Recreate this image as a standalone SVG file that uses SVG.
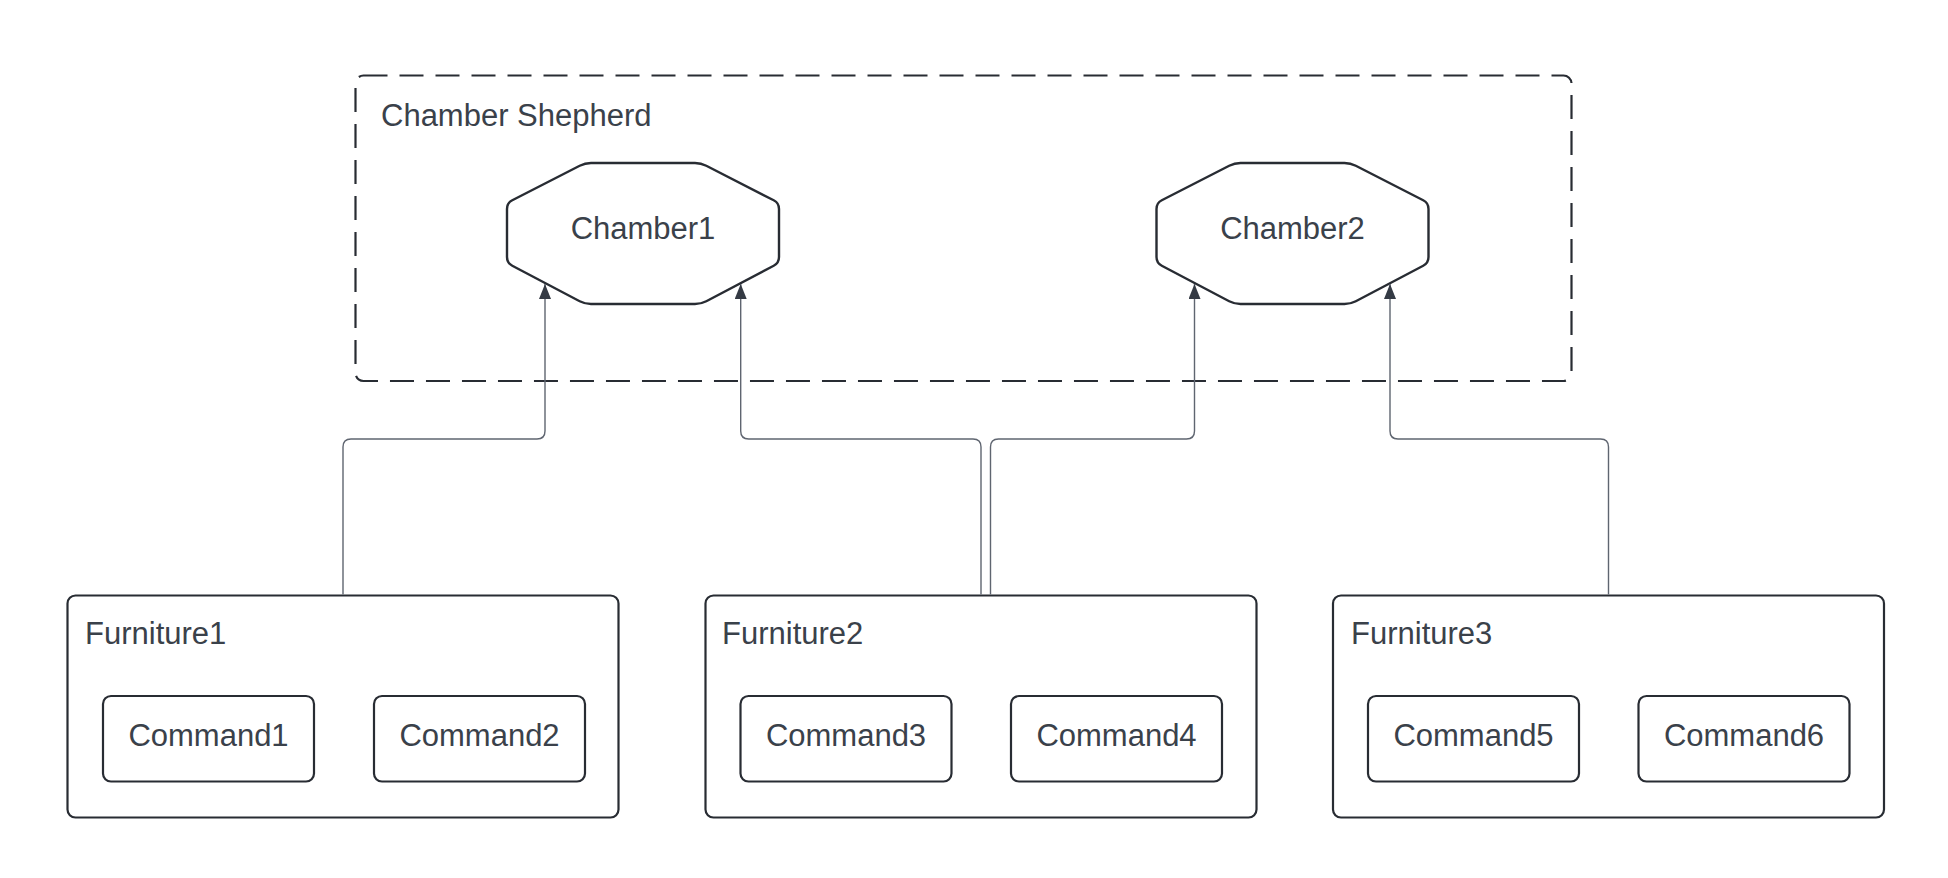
<svg xmlns="http://www.w3.org/2000/svg" width="1948" height="878" viewBox="0 0 1948 878">
  <style>
    .box { fill: #ffffff; stroke: #282c33; stroke-width: 2.2; }
    .container { fill: none; stroke: #282c33; stroke-width: 2.2; stroke-dasharray: 24 12; }
    .oct { fill: #ffffff; stroke: #282c33; stroke-width: 2.4; stroke-linejoin: round; }
    .lbl { font-family: "Liberation Sans", Arial, sans-serif; font-size: 31px; fill: #3a414a; }
    .mid { text-anchor: middle; }
    .conn { fill: none; stroke: #5f6570; stroke-width: 1.4; marker-end: url(#arrow); }
  </style>
  <defs>
    <marker id="arrow" viewBox="0 0 15 12" refX="15" refY="6" markerWidth="15" markerHeight="12" markerUnits="userSpaceOnUse" orient="auto">
      <path d="M0,0 L15,6 L0,12 Z" fill="#343a44"/>
    </marker>
    <path id="octShape" d="M591,163 H695 Q701,163 706.3,165.7 L773.7,200.3 Q779,203 779,209 V257 Q779,263 773.7,265.7 L706.3,301.3 Q701,304 695,304 H591 Q585,304 579.7,301.3 L512.3,265.7 Q507,263 507,257 V209 Q507,203 512.3,200.3 L579.7,165.7 Q585,163 591,163 Z"/>
  </defs>
  <rect width="1948" height="878" fill="#ffffff"/>

  <g id="chamber-shepherd">
    <rect class="container" x="355.5" y="75.5" width="1216" height="305.5" rx="8"/>
    <text class="lbl" x="381" y="126">Chamber Shepherd</text>
  </g>

  <g id="chamber1">
    <use href="#octShape" class="oct"/>
    <text class="lbl mid" x="643" y="239">Chamber1</text>
  </g>

  <g id="chamber2">
    <use href="#octShape" class="oct" transform="translate(649.5,0)"/>
    <text class="lbl mid" x="1292.5" y="239">Chamber2</text>
  </g>

  <g id="furniture1">
    <rect class="box" x="67.5" y="595.5" width="551" height="222" rx="8"/>
    <text class="lbl" x="85" y="644">Furniture1</text>
  </g>
  <g id="command1">
    <rect class="box" x="103" y="696" width="211" height="85.5" rx="8"/>
    <text class="lbl mid" x="208.5" y="745.5">Command1</text>
  </g>
  <g id="command2">
    <rect class="box" x="374" y="696" width="211" height="85.5" rx="8"/>
    <text class="lbl mid" x="479.5" y="745.5">Command2</text>
  </g>

  <g id="furniture2">
    <rect class="box" x="705.5" y="595.5" width="551" height="222" rx="8"/>
    <text class="lbl" x="722" y="644">Furniture2</text>
  </g>
  <g id="command3">
    <rect class="box" x="740.5" y="696" width="211" height="85.5" rx="8"/>
    <text class="lbl mid" x="846" y="745.5">Command3</text>
  </g>
  <g id="command4">
    <rect class="box" x="1011" y="696" width="211" height="85.5" rx="8"/>
    <text class="lbl mid" x="1116.5" y="745.5">Command4</text>
  </g>

  <g id="furniture3">
    <rect class="box" x="1333" y="595.5" width="551" height="222" rx="8"/>
    <text class="lbl" x="1351" y="644">Furniture3</text>
  </g>
  <g id="command5">
    <rect class="box" x="1368" y="696" width="211" height="85.5" rx="8"/>
    <text class="lbl mid" x="1473.5" y="745.5">Command5</text>
  </g>
  <g id="command6">
    <rect class="box" x="1638.5" y="696" width="211" height="85.5" rx="8"/>
    <text class="lbl mid" x="1744" y="745.5">Command6</text>
  </g>

  <g id="connectors">
    <path class="conn" d="M343,594.5 V447 Q343,439 351,439 H537 Q545,439 545,431 V284"/>
    <path class="conn" d="M981,594.5 V447 Q981,439 973,439 H748.7 Q740.7,439 740.7,431 V284"/>
    <path class="conn" d="M990.5,594.5 V447 Q990.5,439 998.5,439 H1186.5 Q1194.5,439 1194.5,431 V284"/>
    <path class="conn" d="M1608.5,594.5 V447 Q1608.5,439 1600.5,439 H1398 Q1390,439 1390,431 V284"/>
  </g>
</svg>
